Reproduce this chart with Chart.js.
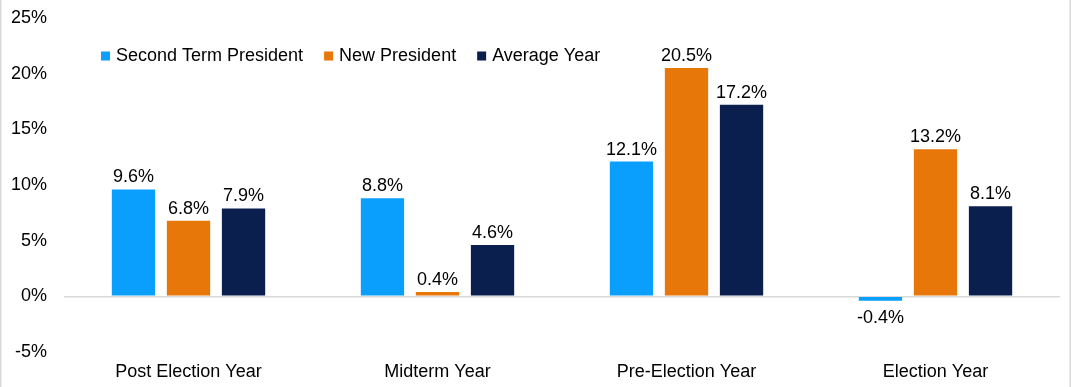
<!DOCTYPE html>
<html>
<head>
<meta charset="utf-8">
<script src="https://cdn.jsdelivr.net/npm/chart.js@4.4.1/dist/chart.umd.min.js"></script>
<style>
  html, body { margin: 0; padding: 0; background: #fff; }
  #wrap { position: relative; width: 1072px; height: 387px; }
</style>
</head>
<body>
<div id="wrap"><canvas id="c" width="1072" height="387"></canvas></div>
<script>
const categories = ['Post Election Year', 'Midterm Year', 'Pre-Election Year', 'Election Year'];
const seriesNames = ['Second Term President', 'New President', 'Average Year'];
const secondTerm = [9.6, 8.8, 12.1, -0.4];
const newPresident = [6.8, 0.4, 20.5, 13.2];
const averageYear = [7.9, 4.6, 17.2, 8.1];
const yTicks = [-5, 0, 5, 10, 15, 20, 25];
const colors = ['#0A9EFD', '#E8770A', '#0B1F4E'];

const FONT = '"Liberation Sans", Arial, sans-serif';

const labelsPlugin = {
  id: 'barLabels',
  afterDatasetsDraw(chart) {
    const ctx = chart.ctx;
    ctx.save();
    ctx.font = '18px ' + FONT;
    ctx.fillStyle = '#000';
    ctx.textAlign = 'center';
    ctx.textBaseline = 'alphabetic';
    chart.data.datasets.forEach((ds, i) => {
      const meta = chart.getDatasetMeta(i);
      meta.data.forEach((bar, j) => {
        const v = ds.data[j];
        const txt = v.toFixed(1) + '%';
        const y = v >= 0 ? bar.y - 7 : bar.y + 22;
        ctx.fillText(txt, bar.x, y);
      });
    });
    ctx.restore();
  }
};

const legendPlugin = {
  id: 'customLegend',
  afterDraw(chart) {
    const ctx = chart.ctx;
    ctx.save();
    ctx.font = '18px ' + FONT;
    ctx.textBaseline = 'middle';
    ctx.textAlign = 'left';
    let x = 101;
    const yc = 56;
    chart.data.datasets.forEach((ds) => {
      ctx.fillStyle = ds.backgroundColor;
      ctx.fillRect(x, yc - 4.5, 9, 9);
      ctx.fillStyle = '#000';
      ctx.fillText(ds.label, x + 15, yc);
      x += 15 + ctx.measureText(ds.label).width + 21;
    });
    ctx.restore();
  }
};

const framePlugin = {
  id: 'frame',
  afterDraw(chart) {
    const ctx = chart.ctx;
    ctx.save();
    ctx.strokeStyle = '#d9d9d9';
    ctx.lineWidth = 1.5;
    ctx.beginPath();
    ctx.moveTo(0.75, 0); ctx.lineTo(0.75, chart.height);
    ctx.moveTo(chart.width - 1.75, 0); ctx.lineTo(chart.width - 1.75, chart.height);
    ctx.stroke();
    ctx.restore();
  }
};

new Chart(document.getElementById('c'), {
  type: 'bar',
  data: {
    labels: categories,
    datasets: [
      { label: seriesNames[0], data: secondTerm, backgroundColor: colors[0] },
      { label: seriesNames[1], data: newPresident, backgroundColor: colors[1] },
      { label: seriesNames[2], data: averageYear, backgroundColor: colors[2] }
    ]
  },
  options: {
    responsive: false,
    animation: false,
    devicePixelRatio: 1,
    datasets: { bar: { categoryPercentage: 0.663, barPercentage: 0.787 } },
    layout: { padding: { top: 18, right: 12, left: 0, bottom: 0 } },
    plugins: { legend: { display: false }, tooltip: { enabled: false } },
    scales: {
      x: {
        grid: { display: false, drawTicks: false },
        border: { display: false },
        ticks: { color: '#000', font: { size: 18, family: FONT }, padding: 9, maxRotation: 0 },
        afterFit(s) { s.height = 35; }
      },
      y: {
        min: -5, max: 25,
        afterBuildTicks(s) { s.ticks = yTicks.map(v => ({ value: v })); },
        grid: {
          drawTicks: false,
          lineWidth: 1.5,
          color: (c) => (c.tick && c.tick.value === 0) ? '#d9d9d9' : 'rgba(0,0,0,0)'
        },
        border: { display: false },
        ticks: {
          color: '#000', font: { size: 18, family: FONT }, padding: 17,
          callback: (v) => v + '%'
        },
        afterFit(s) { s.width = 64; s.paddingTop = 0; s.paddingBottom = 0; }
      }
    }
  },
  plugins: [labelsPlugin, legendPlugin, framePlugin]
});
</script>
</body>
</html>
